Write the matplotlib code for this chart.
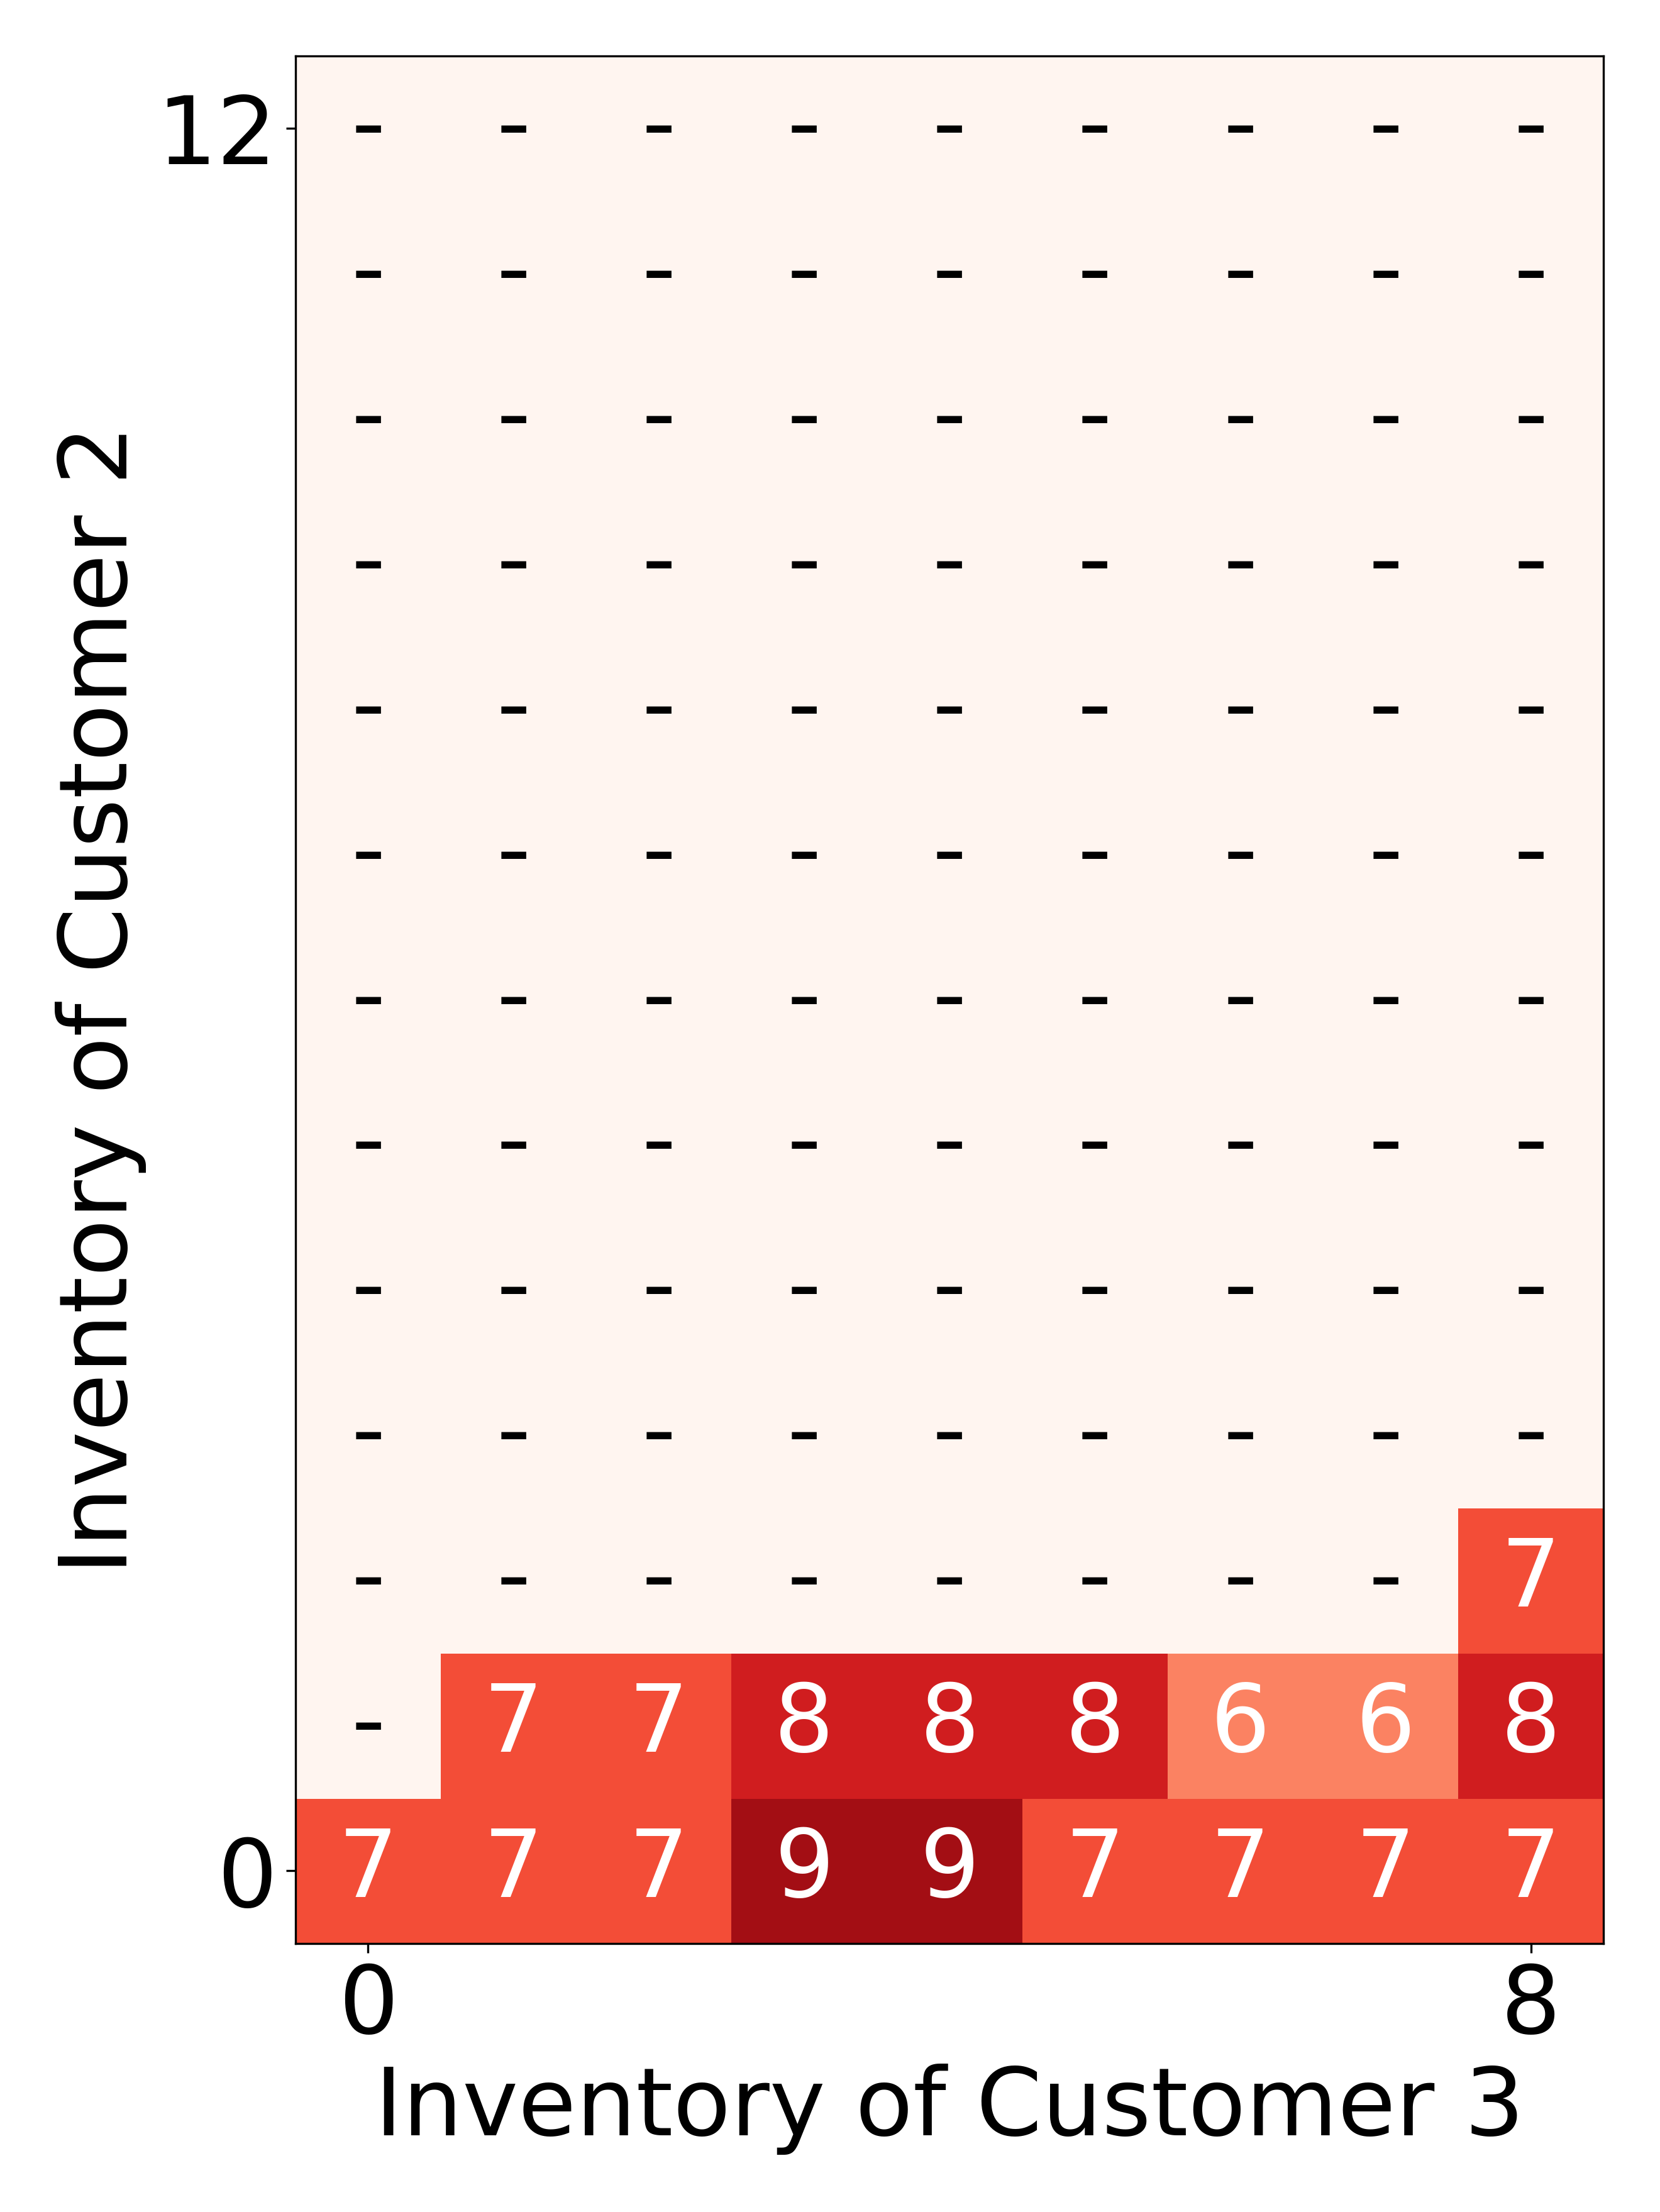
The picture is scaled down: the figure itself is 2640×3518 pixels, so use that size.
import numpy as np
import matplotlib
matplotlib.use("Agg")
import matplotlib.pyplot as plt
from matplotlib.colors import Normalize

# ===== data =====
# rows = inventory of customer 2 (0..12), cols = inventory of customer 3 (0..8)
# NaN means "-" (no action)
n_rows, n_cols = 13, 9
row0 = [7, 7, 7, 9, 9, 7, 7, 7, 7]
row1 = [np.nan, 7, 7, 8, 8, 8, 6, 6, 8]
row2 = [np.nan] * 8 + [7]

x_ticks = [0, 8]
y_ticks = [0, 12]
x_label = "Inventory of Customer 3"
y_label = "Inventory of Customer 2"

grid = np.full((n_rows, n_cols), np.nan)
grid[0, :] = row0
grid[1, :] = row1
grid[2, :] = row2

# ===== plot =====
plt.rcParams.update({"font.size": 36})

fig = plt.figure(figsize=(8.8, 11.727), dpi=300)
ax = fig.add_axes([0.178, 0.1214, 0.788, 0.8533])

cmap = matplotlib.colormaps["Reds"].copy()
cmap.set_bad(cmap(0.0))
norm = Normalize(vmin=3.2, vmax=9.8)

ax.imshow(np.ma.masked_invalid(grid), cmap=cmap, norm=norm, origin="lower",
          aspect="auto", interpolation="nearest")

for i in range(n_rows):
    for j in range(n_cols):
        v = grid[i, j]
        if np.isnan(v):
            ax.text(j, i, "-", ha="center", va="center", color="black", fontsize=36)
        else:
            ax.text(j, i, f"{int(v)}", ha="center", va="center", color="white", fontsize=36)

ax.set_xticks(x_ticks)
ax.set_yticks(y_ticks)
ax.tick_params(labelsize=36)
ax.set_xlabel(x_label, fontsize=36, labelpad=4)
ax.set_ylabel(y_label, fontsize=36, labelpad=4)

fig.savefig("out.png", dpi=300)
